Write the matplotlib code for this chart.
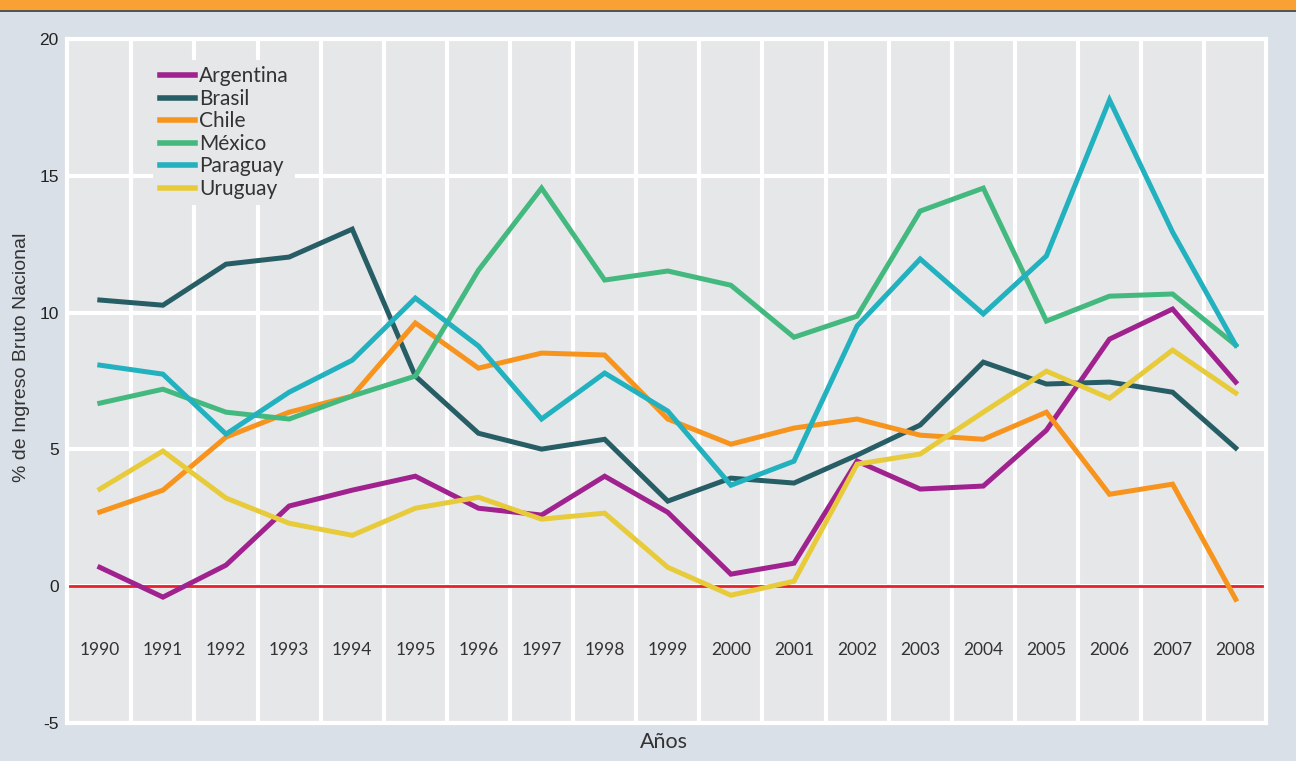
import numpy as np
import matplotlib.pyplot as plt
from matplotlib.patches import Rectangle

years = list(range(1990, 2009))

argentina = [0.69, -0.40, 0.77, 2.93, 3.51, 4.02, 2.85, 2.60, 4.02, 2.70,
             0.44, 0.84, 4.57, 3.55, 3.66, 5.70, 9.03, 10.13, 7.46]
brasil = [10.46, 10.27, 11.77, 12.03, 13.05, 7.68, 5.59, 5.01, 5.37, 3.11,
          3.95, 3.77, 4.79, 5.89, 8.19, 7.39, 7.46, 7.09, 5.05]
chile = [2.71, 3.51, 5.45, 6.36, 6.95, 9.62, 7.97, 8.52, 8.45, 6.11,
         5.19, 5.78, 6.11, 5.52, 5.37, 6.36, 3.36, 3.73, -0.48]
mexico = [6.69, 7.20, 6.36, 6.11, 6.95, 7.68, 11.55, 14.55, 11.19, 11.52,
          11.00, 9.10, 9.87, 13.71, 14.55, 9.69, 10.60, 10.68, 8.81]
paraguay = [8.08, 7.75, 5.56, 7.09, 8.26, 10.53, 8.78, 6.11, 7.79, 6.40,
            3.69, 4.57, 9.51, 11.96, 9.95, 12.07, 17.77, 12.94, 8.81]
uruguay = [3.55, 4.94, 3.22, 2.30, 1.86, 2.85, 3.25, 2.45, 2.67, 0.69,
           -0.33, 0.18, 4.46, 4.83, 6.36, 7.86, 6.87, 8.63, 7.06]

series = [
    ("Argentina", argentina, "#A0228F"),
    ("Brasil", brasil, "#275E66"),
    ("Chile", chile, "#F7941D"),
    ("México", mexico, "#43B97F"),
    ("Paraguay", paraguay, "#22B1BE"),
    ("Uruguay", uruguay, "#E8CB3A"),
]

y_ticks = [-5, 0, 5, 10, 15, 20]

fig = plt.figure(figsize=(12.96, 7.61), dpi=100)
fig.patch.set_facecolor("#D9E0E7")

# orange band on top
fig.patches.append(Rectangle((0, 1 - 10 / 761), 1, 10 / 761, transform=fig.transFigure,
                             facecolor="#F9A133", edgecolor="none", zorder=0))
fig.patches.append(Rectangle((0, 1 - 12 / 761), 1, 2 / 761, transform=fig.transFigure,
                             facecolor="#555555", edgecolor="none", zorder=0))

ax = fig.add_axes([67 / 1296, 38 / 761, (1266 - 67) / 1296, (723 - 39) / 761])
ax.set_facecolor("#E6E7E9")

# grid: white lines between years and at every 5 units
for x in np.arange(years[0] + 0.5, years[-1], 1.0):
    ax.axvline(x, color="white", lw=3, zorder=1)
for y in y_ticks:
    ax.axhline(y, color="white", lw=3, zorder=1)
ax.axhline(0, color="#E8202A", lw=2, zorder=2)

for name, vals, col in series:
    ax.plot(years, vals, color=col, lw=3.6, label=name, zorder=3, solid_joinstyle="miter")

for yr in years:
    ax.text(yr, -2.35, str(yr), ha="center", va="center", fontsize=12.5,
            family="Lato", color="#333333", zorder=4)

ax.set_xlim(years[0] - 0.52, years[-1] + 0.48)
ax.set_ylim(-5, 20)
ax.set_yticks(y_ticks)
ax.set_yticklabels([str(t) for t in y_ticks], family="Liberation Sans", fontsize=12.5,
                   color="#222222")
ax.set_xticks([])
ax.tick_params(axis="y", length=0, pad=6)
for s in ax.spines.values():
    s.set_color("white")
    s.set_linewidth(3)

leg = ax.legend(loc="upper left", bbox_to_anchor=(0.072, 0.969), frameon=True,
                facecolor="#E6E7E9", edgecolor="none", framealpha=1,
                prop={"family": "Lato", "size": 15}, handlelength=1.7,
                handletextpad=0.2, labelspacing=0.12, borderpad=0.3,
                borderaxespad=0, fancybox=False)
leg.set_zorder(5)
for t in leg.get_texts():
    t.set_color("#333333")
for h in leg.get_lines():
    h.set_linewidth(4)

fig.text(22 / 1296, 1 - 357 / 761, "% de Ingreso Bruto Nacional", rotation=90,
         ha="center", va="center", fontsize=14, family="Liberation Sans", color="#333333")
fig.text(664 / 1296, 1 - 742 / 761, "Años", ha="center", va="center",
         fontsize=15.5, family="Lato", color="#333333")

fig.savefig("out.png", dpi=100, facecolor=fig.get_facecolor())
